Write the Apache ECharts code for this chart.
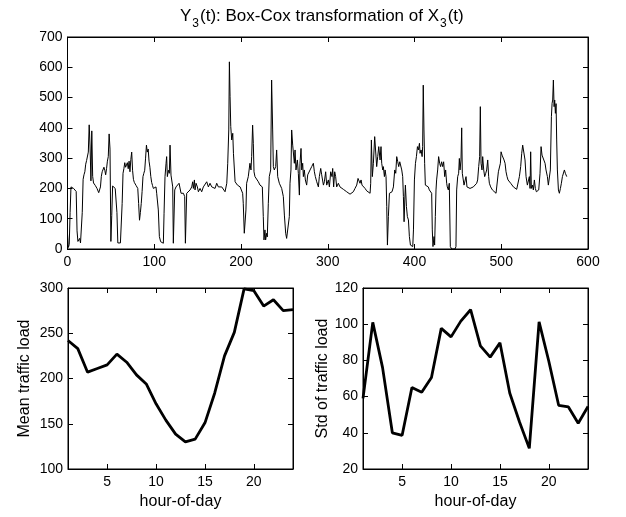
<!DOCTYPE html>
<html><head><meta charset="utf-8">
<script src="https://cdn.jsdelivr.net/npm/echarts@6/dist/echarts.min.js"></script>
<style>html,body{margin:0;padding:0;background:#fff}#c{width:626px;height:517px}</style>
</head><body><div id="c"></div>
<script>
// ---- data ----
const sampleT = [0,1,2,3,4,5,6,7,8,9,10,11,12,13,14,15,16,17,18,19,20,21,22,23,24,25,26,27,28,29,30,31,32,33,34,35,36,37,38,39,40,41,42,43,44,45,46,47,48,49,50,51,52,53,54,55,56,57,58,59,60,61,62,63,64,65,66,67,68,69,70,71,72,73,74,75,76,77,78,79,80,81,82,83,84,85,86,87,88,89,90,91,92,93,94,95,96,97,98,99,100,
102,102.8,104.7,105.9,107.4,109,110.5,111.3,112.4,113.6,114.3,115.1,116.3,117.4,118.2,119.3,120.5,121.3,122,122.8,123.6,125.1,126.6,128.6,129.7,130.9,132,133.6,135.1,135.9,136.6,137.4,139.3,141.3,143.2,144.3,145.1,146.3,147,148.2,149.7,150.9,152.8,154.7,156.6,158.6,160.5,162.4,164.3,166.3,168.2,170.1,172,173.9,175.9,177.8,179.7,181.6,183.6,184.7,185.9,186.6,187.4,188.2,189.3,190.5,191.3,193.2,194.3,195.9,197.4,199,
200.7,201.9,202.6,203.8,204.6,205.7,206.5,208.4,210.3,211.5,212.3,213.4,214.2,215,216.1,218,220,221.9,224.6,225.7,226.5,227.6,228.4,229.6,230.3,231.5,232.6,234.2,235.3,236.5,237.3,238.4,240,241.1,242.3,244.2,246.9,248.8,250,251.5,252.6,254.6,255.7,256.5,257.6,258.4,259.6,260.3,261.5,262.3,263.4,265,266.1,267.3,268,269.2,270,271.1,271.9,273,274.2,275.7,276.9,278.4,279.6,281.5,283.4,284.6,285.7,287.3,289.2,290.3,291.9,293,295,296.1,297.6,298.8,300.7,301.9,303.4,
304.9,305.7,306.8,308,309.1,310.3,312.2,314.1,316.1,318,319.9,321.8,323.8,325.7,327.6,329.5,331.4,333.4,334.9,336.1,337.2,338.4,339.5,341.1,343,344.9,346.8,348.8,349.5,350.3,351.4,352.6,354.1,355.3,356.4,357.6,358.8,360.3,361.4,362.2,363.4,364.1,365.3,366.1,367.2,368,368.8,369.9,371.1,372.6,374.1,375.7,377.2,378.4,379.5,380.7,381.8,383,384.1,385.3,386.4,387.2,388,388.8,389.5,390.7,391.8,393,394.1,395.3,396.8,398,398.8,399.9,401.1,402.2,403.4,404.5,405.7,406.4,407.6,408.8,
409.4,410.1,410.9,411.7,412.5,414,415.9,417.1,418.6,419.8,420.5,421.3,422.5,423.2,424,424.8,425.5,426.7,427.8,429,430.1,431.3,432.5,433.6,434.8,435.9,437.1,437.8,439,440.1,441.3,442.8,444.8,446.7,447.8,448.6,449.8,450.9,451.7,452.5,453.6,454.4,455.1,456.3,457.1,458.2,459.4,460.5,461.7,462.8,464,465.9,467.8,469.8,471.7,472.8,474,475.1,475.9,476.7,477.8,478.6,479.8,480.9,482.1,483.2,484.4,485.5,486.3,487.8,489.8,491.7,494,495.5,496.7,497.8,499,499.8,500.9,502.1,503.2,504.4,505.5,506.7,507.8,509.4,510.9,512.5,514,
515.9,517.8,519.7,520.9,522.4,523.6,524.7,526.3,527.4,528.6,530.1,531.3,532.4,533.2,533.9,534.7,535.9,537,538.2,539.3,540.5,541.6,543.2,544.7,545.9,547,548.2,549.3,550.5,551.6,553.2,554.3,555.5,556.6,557.8,558.6,559.3,560.1,560.9,561.6,562.4,563.2,563.9,564.7,565.9,567,568.2,569.3,570.5,571.6,572.8,573.9,575.5];
const loadY = [50,5,15,120,205,208,205,200,198,196,190,60,25,30,35,20,25,120,230,245,255,280,292,290,320,410,340,225,390,240,218,212,210,205,200,195,186,190,205,240,255,250,270,260,245,265,290,305,380,330,25,110,208,208,205,200,195,120,20,18,18,20,25,150,250,265,285,270,275,285,265,290,255,295,320,260,230,220,215,210,205,200,150,95,120,150,190,239,250,260,300,343,320,330,290,270,240,220,210,200,195,
205,184,129,41,24,19,19,118,239,283,305,239,260,250,343,244,240,205,19,19,195,205,200,217,222,184,178,184,173,19,19,184,189,195,205,222,200,228,195,217,205,189,200,189,205,211,222,205,217,205,211,200,217,205,211,205,200,189,217,283,393,618,503,404,360,382,316,222,228,211,217,205,
210,184,151,52,46,129,217,239,283,261,305,409,349,255,239,233,222,211,205,107,30,63,30,52,40,151,239,261,558,393,272,261,272,327,239,217,200,173,112,52,35,35,107,217,261,393,343,338,283,327,261,294,250,178,283,332,261,283,239,261,228,211,245,239,261,272,283,255,239,222,205,239,266,245,211,222,255,211,228,205,255,
239,266,205,255,239,205,217,205,200,197,192,189,186,181,180,189,200,211,233,239,217,228,211,205,200,192,186,184,217,360,239,283,371,373,272,305,338,294,338,283,261,272,239,261,239,140,13,107,184,189,189,205,261,250,305,288,272,288,283,261,239,173,90,162,211,140,107,96,41,13,19,8,63,228,283,305,338,327,349,316,327,305,
338,541,393,283,211,205,205,195,195,184,63,8,41,13,107,195,228,261,305,283,272,288,272,288,239,261,217,205,195,217,8,0,0,0,8,195,239,250,299,261,294,400,250,255,211,205,239,205,211,205,200,205,205,205,217,228,272,305,470,283,261,305,261,239,250,261,294,239,217,205,195,189,184,184,255,261,283,321,310,310,294,283,255,239,228,222,217,211,205,
200,197,203,239,272,316,343,338,294,239,211,205,239,200,321,200,211,195,228,200,189,184,195,250,338,310,305,316,283,261,239,211,205,261,437,481,492,558,470,492,448,480,360,261,195,184,200,217,239,245,261,250,239];

const hours = [1,2,3,4,5,6,7,8,9,10,11,12,13,14,15,16,17,18,19,20,21,22,23,24];
const meanLoad = [242,233,207,211,215,227,218,204,194,172,154,138.5,130,133,151,184,225,251,299,297,280,287,275,276];
const stdLoad = [59,101,76,40,38.6,65,62.4,70.6,97.7,93,101.7,108,88,81.8,89.7,62,46,31.4,101.3,79.4,55.2,54.3,45.3,54.5];

const topXTicks = [0,100,200,300,400,500,600];
const topYTicks = [0,100,200,300,400,500,600,700];
const hourTicks = [5,10,15,20];
const meanTicks = [100,150,200,250,300];
const stdTicks = [20,40,60,80,100,120];

// ---- chart ----
const FONT = 'Liberation Sans, Arial, Helvetica, sans-serif';
const lblStyle = {color:'#000', fontFamily: FONT, fontSize: 14};
function axisCommon(extra){
  return Object.assign({
    axisLine:{show:true, onZero:false, lineStyle:{color:'#000', width:1}},
    splitLine:{show:false},
  }, extra);
}
function valX(grid, min, max, ticks, pos, showLabel, name){
  return axisCommon({
    type:'value', gridIndex:grid, min:min, max:max, position:pos,
    axisLabel:Object.assign({show:showLabel, margin:6, customValues:ticks}, lblStyle),
    axisTick:{show:true, inside:true, length:5, customValues:ticks, lineStyle:{color:'#000', width:1}},
    name: name || '', nameLocation:'middle', nameGap:25,
    nameTextStyle:{color:'#000', fontFamily:FONT, fontSize:16}
  });
}
function valY(grid, min, max, ticks, pos, showLabel, name, gap){
  return axisCommon({
    type:'value', gridIndex:grid, min:min, max:max, position:pos,
    axisLabel:Object.assign({show:showLabel, margin:5, customValues:ticks}, lblStyle),
    axisTick:{show:true, inside:true, length:5, customValues:ticks, lineStyle:{color:'#000', width:1}},
    name: name || '', nameLocation:'middle', nameGap: gap || 30,
    nameTextStyle:{color:'#000', fontFamily:FONT, fontSize:16}
  });
}

const topData = sampleT.map((t,i)=>[t, loadY[i]]);
const meanData = hours.map((h,i)=>[h, meanLoad[i]]);
const stdData = hours.map((h,i)=>[h, stdLoad[i]]);

const chart = echarts.init(document.getElementById('c'), null, {renderer:'canvas'});
chart.setOption({
  backgroundColor:'#fff',
  animation:false,
  title:{
    text:'{n|Y}{s|3}{n|(t): Box-Cox transformation of X}{s|3}{n|(t)}',
    left:175, top:3,
    textStyle:{
      fontWeight:'normal',
      rich:{
        n:{fontFamily:FONT, fontSize:17, fontWeight:'normal', color:'#000', verticalAlign:'top', lineHeight:20},
        s:{fontFamily:FONT, fontSize:12, fontWeight:'normal', color:'#000', verticalAlign:'top', lineHeight:20, padding:[10,1,0,1]}
      }
    }
  },
  grid:[
    {left:67.5, top:37, width:520.5, height:212, show:true, borderColor:'#000', borderWidth:1, backgroundColor:'#fff'},
    {left:68, top:288, width:225, height:181, show:true, borderColor:'#000', borderWidth:1, backgroundColor:'#fff'},
    {left:363, top:288, width:225, height:181, show:true, borderColor:'#000', borderWidth:1, backgroundColor:'#fff'}
  ],
  xAxis:[
    valX(0,0,600,topXTicks,'bottom',true),
    valX(0,0,600,topXTicks,'top',false),
    valX(1,1,24,hourTicks,'bottom',true,'hour-of-day'),
    valX(1,1,24,hourTicks,'top',false),
    valX(2,1,24,hourTicks,'bottom',true,'hour-of-day'),
    valX(2,1,24,hourTicks,'top',false)
  ],
  yAxis:[
    valY(0,0,700,topYTicks,'left',true),
    valY(0,0,700,topYTicks,'right',false),
    valY(1,100,300,meanTicks,'left',true,'Mean traffic load',35),
    valY(1,100,300,meanTicks,'right',false),
    valY(2,20,120,stdTicks,'left',true,'Std of traffic load',26),
    valY(2,20,120,stdTicks,'right',false)
  ],
  series:[
    {type:'line', xAxisIndex:0, yAxisIndex:0, data:topData, showSymbol:false, lineStyle:{color:'#000', width:1}, clip:true},
    {type:'line', xAxisIndex:2, yAxisIndex:2, data:meanData, showSymbol:false, lineStyle:{color:'#000', width:2.8}, clip:true},
    {type:'line', xAxisIndex:4, yAxisIndex:4, data:stdData, showSymbol:false, lineStyle:{color:'#000', width:2.8}, clip:true}
  ]
});
</script>
</body></html>
